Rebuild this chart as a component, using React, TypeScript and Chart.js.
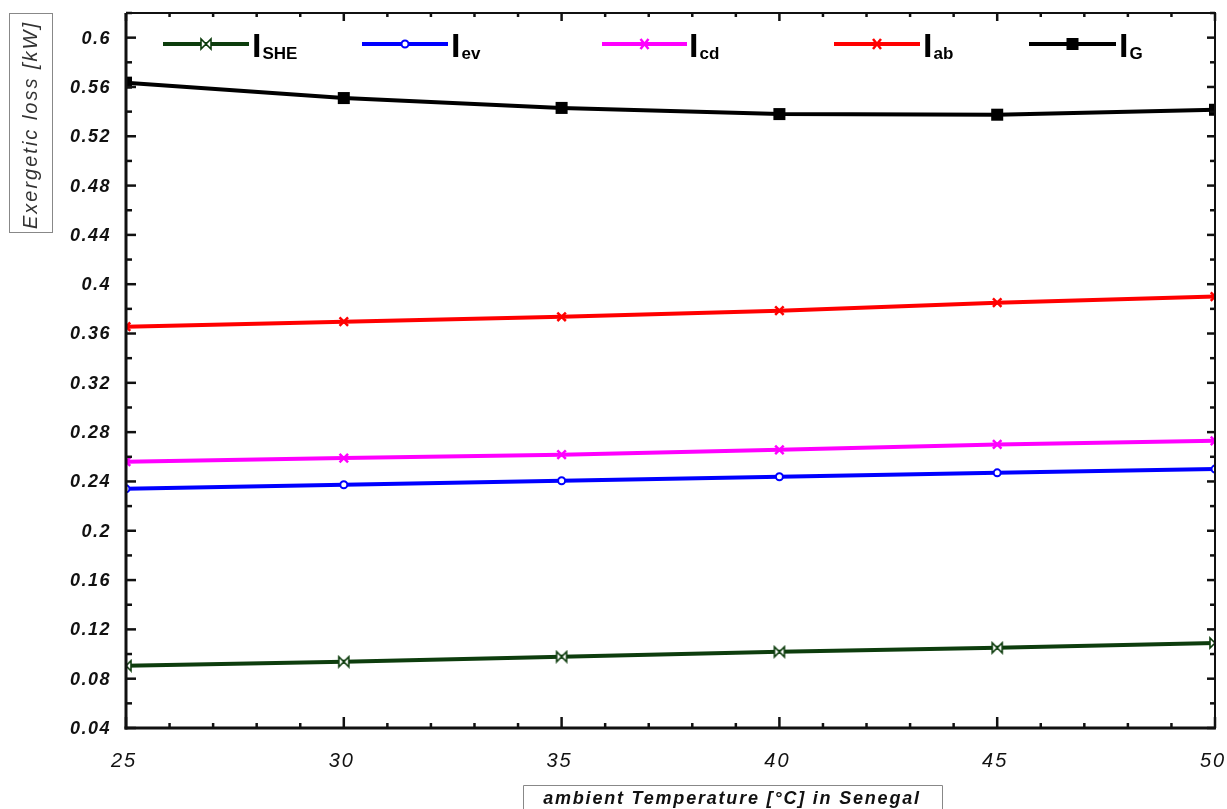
import React, { useEffect, useRef } from 'react';
import { Chart, registerables } from 'chart.js';
Chart.register(...registerables);

const temperatures = [25, 30, 35, 40, 45, 50];
const iSHE = [0.0905, 0.0937, 0.0978, 0.1018, 0.105, 0.109];
const iEv = [0.234, 0.2373, 0.2406, 0.2438, 0.247, 0.25];
const iCd = [0.256, 0.259, 0.2617, 0.2657, 0.27, 0.273];
const iAb = [0.3655, 0.3696, 0.3736, 0.3785, 0.385, 0.39];
const iG = [0.5635, 0.551, 0.543, 0.538, 0.5375, 0.5415];
const seriesSubs = ['SHE', 'ev', 'cd', 'ab', 'G'];
const seriesColors = ['#0d3d0d', '#0000ff', '#ff00ff', '#ff0000', '#000000'];
const yTickLabels = ['0.04', '0.08', '0.12', '0.16', '0.2', '0.24', '0.28', '0.32', '0.36', '0.4', '0.44', '0.48', '0.52', '0.56', '0.6'];
const xTickLabels = ['25', '30', '35', '40', '45', '50'];
const yMinorStep = 0.02;
const xMinorStep = 1;
const yTitle = 'Exergetic loss [kW]';
const xTitle = 'ambient Temperature [°C] in Senegal';

const FONT = '"Liberation Sans", Arial, sans-serif';
const NARROW = '"Liberation Sans Narrow", "Liberation Sans", Arial, sans-serif';

function makeBowtie(color: string) {
  const c = document.createElement('canvas');
  c.width = 14; c.height = 14;
  const g = c.getContext('2d')!;
  g.strokeStyle = color; g.lineWidth = 1.6; g.fillStyle = '#ffffff';
  g.beginPath();
  g.moveTo(2, 2); g.lineTo(2, 12); g.lineTo(7, 7); g.closePath();
  g.moveTo(12, 2); g.lineTo(12, 12); g.lineTo(7, 7); g.closePath();
  g.fill(); g.stroke();
  return c;
}

function drawMarker(ctx: CanvasRenderingContext2D, idx: number, x: number, y: number) {
  const col = seriesColors[idx];
  ctx.save();
  ctx.strokeStyle = col;
  ctx.fillStyle = col;
  if (idx === 0) {
    ctx.fillStyle = '#fff'; ctx.lineWidth = 1.6;
    ctx.beginPath();
    ctx.moveTo(x - 5, y - 5); ctx.lineTo(x - 5, y + 5); ctx.lineTo(x, y); ctx.closePath();
    ctx.moveTo(x + 5, y - 5); ctx.lineTo(x + 5, y + 5); ctx.lineTo(x, y); ctx.closePath();
    ctx.fill(); ctx.stroke();
  } else if (idx === 1) {
    ctx.fillStyle = '#fff'; ctx.lineWidth = 2;
    ctx.beginPath(); ctx.arc(x, y, 3.5, 0, Math.PI * 2); ctx.fill(); ctx.stroke();
  } else if (idx === 2 || idx === 3) {
    ctx.lineWidth = 2.5;
    ctx.beginPath();
    ctx.moveTo(x - 4, y - 5); ctx.lineTo(x + 4, y + 5);
    ctx.moveTo(x + 4, y - 5); ctx.lineTo(x - 4, y + 5);
    ctx.stroke();
  } else {
    ctx.fillRect(x - 6, y - 6, 12, 12);
  }
  ctx.restore();
}

const legendItems = [
  { x1: 163, x2: 249, tx: 252 },
  { x1: 362, x2: 448, tx: 451 },
  { x1: 602, x2: 687, tx: 689 },
  { x1: 834, x2: 920, tx: 923 },
  { x1: 1029, x2: 1116, tx: 1119 },
];

const decorPlugin = {
  id: 'decor',
  afterDatasetsDraw(chart: any) {
    const ctx: CanvasRenderingContext2D = chart.ctx;
    const { left, right, top, bottom } = chart.chartArea;
    const xs = chart.scales.x;
    const ys = chart.scales.y;
    ctx.save();
    // frame
    ctx.strokeStyle = '#111';
    ctx.lineCap = 'butt';
    ctx.lineWidth = 3;
    ctx.beginPath(); ctx.moveTo(left, top); ctx.lineTo(left, bottom + 1.5); ctx.stroke();
    ctx.beginPath(); ctx.moveTo(left - 1.5, bottom); ctx.lineTo(right + 1, bottom); ctx.stroke();
    ctx.lineWidth = 2;
    ctx.beginPath(); ctx.moveTo(left, top); ctx.lineTo(right, top); ctx.lineTo(right, bottom); ctx.stroke();
    // y ticks
    ctx.lineWidth = 2.5;
    const yMin = ys.min, yMax = ys.max;
    for (let v = yMin; v <= yMax + 1e-9; v += yMinorStep) {
      const p = ys.getPixelForValue(v);
      const isMajor = yTickLabels.some((t) => Math.abs(parseFloat(t) - v) < 1e-6);
      const l = isMajor ? 10 : 6;
      ctx.beginPath(); ctx.moveTo(left, p); ctx.lineTo(left + l, p); ctx.stroke();
      ctx.beginPath(); ctx.moveTo(right, p); ctx.lineTo(right - (isMajor ? 8 : 5), p); ctx.stroke();
    }
    for (let v = xs.min; v <= xs.max + 1e-9; v += xMinorStep) {
      const p = xs.getPixelForValue(v);
      const isMajor = xTickLabels.some((t) => Math.abs(parseFloat(t) - v) < 1e-6);
      const l = isMajor ? 11 : 5;
      ctx.beginPath(); ctx.moveTo(p, bottom); ctx.lineTo(p, bottom - l); ctx.stroke();
      ctx.beginPath(); ctx.moveTo(p, top); ctx.lineTo(p, top + (isMajor ? 8 : 4)); ctx.stroke();
    }
    // y tick labels
    ctx.fillStyle = '#111';
    (ctx as any).letterSpacing = '1.5px';
    ctx.font = `italic bold 18px ${FONT}`;
    ctx.textAlign = 'right';
    ctx.textBaseline = 'middle';
    yTickLabels.forEach((t) => {
      ctx.fillText(t, left - 15, ys.getPixelForValue(parseFloat(t)) + 1);
    });
    // x tick labels
    (ctx as any).letterSpacing = '2px';
    ctx.font = `italic 20px ${FONT}`;
    ctx.textAlign = 'center';
    ctx.textBaseline = 'middle';
    xTickLabels.forEach((t) => {
      ctx.fillText(t, xs.getPixelForValue(parseFloat(t)) - 2, bottom + 33);
    });
    // y title
    ctx.strokeStyle = '#888';
    ctx.lineWidth = 1;
    ctx.strokeRect(9.5, 13.5, 43, 219);
    ctx.save();
    ctx.translate(31, 125);
    ctx.rotate(-Math.PI / 2);
    (ctx as any).letterSpacing = '2px';
    ctx.font = `italic 20px ${FONT}`;
    ctx.fillStyle = '#333';
    ctx.textAlign = 'center';
    ctx.textBaseline = 'middle';
    ctx.fillText(yTitle, 0, 0);
    ctx.restore();
    // x title
    ctx.beginPath();
    ctx.moveTo(523.5, 809); ctx.lineTo(523.5, 785.5); ctx.lineTo(942.5, 785.5); ctx.lineTo(942.5, 809);
    ctx.stroke();
    (ctx as any).letterSpacing = '1.8px';
    ctx.font = `italic bold 18px ${FONT}`;
    ctx.fillStyle = '#111';
    ctx.textAlign = 'center';
    ctx.textBaseline = 'middle';
    ctx.fillText(xTitle, 732, 799);
    // legend
    (ctx as any).letterSpacing = '0px';
    const ly = 44;
    legendItems.forEach((it, i) => {
      ctx.strokeStyle = seriesColors[i];
      ctx.lineWidth = 4;
      ctx.beginPath(); ctx.moveTo(it.x1, ly); ctx.lineTo(it.x2, ly); ctx.stroke();
      drawMarker(ctx, i, (it.x1 + it.x2) / 2, ly);
      ctx.fillStyle = '#000';
      ctx.textAlign = 'left';
      ctx.textBaseline = 'alphabetic';
      ctx.font = `bold 34px ${NARROW}`;
      ctx.fillText('I', it.tx, 57);
      const w = ctx.measureText('I').width;
      ctx.font = `bold 17px ${NARROW}`;
      ctx.fillText(seriesSubs[i], it.tx + w + 1, 59);
    });
    ctx.restore();
  },
};

export default function App() {
  const ref = useRef<HTMLCanvasElement | null>(null);
  useEffect(() => {
    if (!ref.current) return;
    const bow = makeBowtie(seriesColors[0]);
    const series = [iSHE, iEv, iCd, iAb, iG];
    const styles: any[] = [
      { pointStyle: bow, pointRadius: 7, pointBackgroundColor: '#fff', pointBorderWidth: 1 },
      { pointStyle: 'circle', pointRadius: 3.5, pointBackgroundColor: '#fff', pointBorderWidth: 2 },
      { pointStyle: 'crossRot', pointRadius: 6, pointBorderWidth: 2.5 },
      { pointStyle: 'crossRot', pointRadius: 6, pointBorderWidth: 2.5 },
      { pointStyle: 'rect', pointRadius: 8.5, pointBackgroundColor: '#000', pointBorderWidth: 0 },
    ];
    const chart = new Chart(ref.current, {
      type: 'line',
      data: {
        datasets: series.map((s, i) => ({
          label: 'I' + seriesSubs[i],
          data: temperatures.map((t, j) => ({ x: t, y: s[j] })),
          borderColor: seriesColors[i],
          backgroundColor: seriesColors[i],
          pointBorderColor: seriesColors[i],
          borderWidth: 4,
          tension: 0,
          clip: 1,
          ...styles[i],
        })),
      },
      options: {
        animation: false,
        responsive: false,
        layout: { padding: { top: 13, right: 12, left: 0, bottom: 0 } },
        plugins: { legend: { display: false }, tooltip: { enabled: false }, title: { display: false } },
        scales: {
          x: {
            type: 'linear',
            min: 25,
            max: 50,
            grid: { display: false, drawTicks: false },
            border: { display: false },
            ticks: { display: false },
            afterFit: (s: any) => { s.height = 81; },
          },
          y: {
            type: 'linear',
            min: 0.04,
            max: 0.62,
            grid: { display: false, drawTicks: false },
            border: { display: false },
            ticks: { display: false },
            afterFit: (s: any) => { s.width = 126; },
          },
        },
      } as any,
      plugins: [decorPlugin],
    });
    return () => chart.destroy();
  }, []);
  return (
    <div style={{ position: 'absolute', left: 0, top: 0, width: 1227, height: 809, background: '#fff' }}>
      <canvas ref={ref} width={1227} height={809} />
    </div>
  );
}
